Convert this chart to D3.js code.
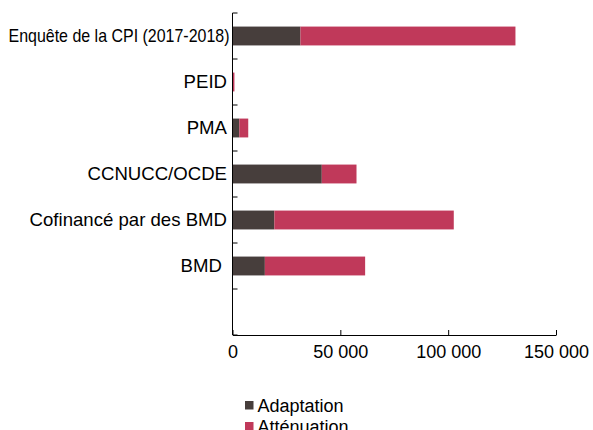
<!DOCTYPE html>
<html>
<head>
<meta charset="utf-8">
<script src="https://cdn.jsdelivr.net/npm/d3@7"></script>
<style>
  body { margin: 0; background: #fff; }
  svg { display: block; font-family: "Liberation Sans", Arial, sans-serif; }
</style>
</head>
<body>
<div id="chart"></div>
<script>
// Données
const categories = ['Enquête de la CPI (2017-2018)', 'PEID', 'PMA', 'CCNUCC/OCDE', 'Cofinancé par des BMD', 'BMD ', ''];
const adaptation = [31500, 200, 3150, 41400, 19400, 15000, 0];
const attenuation = [99700, 700, 4150, 16100, 83200, 46500, 0];
const xTicks = [0, 50000, 100000, 150000];
const seriesNames = ['Adaptation', 'Atténuation'];
const colors = ['#473e3c', '#c0395a'];

const width = 593;
const height = 430;
const x0 = 232.5;
const yTop = 13;
const yBottom = 335;

const svg = d3.select('#chart').append('svg')
    .attr('width', width)
    .attr('height', height);

const xScale = d3.scaleLinear()
    .domain([0, 150000])
    .range([x0, 556]);

const yScale = d3.scaleBand()
    .domain(d3.range(categories.length))
    .range([yTop, yBottom])
    .paddingInner(0.59)
    .paddingOuter(0.295);

const fmt = d => d3.format(',')(d).replace(/,/g, ' ');

// Barres empilées
const rows = categories.map((c, i) => ({ i: i, adaptation: adaptation[i], attenuation: attenuation[i] }));
const stack = d3.stack().keys(['adaptation', 'attenuation'])(rows);

svg.selectAll('.serie')
    .data(stack)
    .enter()
    .append('g')
    .attr('class', 'serie')
    .attr('fill', (d, k) => colors[k])
    .selectAll('rect')
    .data(d => d.filter(p => p[1] > p[0]))
    .enter()
    .append('rect')
    .attr('x', d => xScale(d[0]))
    .attr('y', d => yScale(d.data.i))
    .attr('width', d => xScale(d[1]) - xScale(d[0]))
    .attr('height', yScale.bandwidth());

// Axe X
const xAxis = svg.append('g')
    .attr('transform', `translate(0, ${yBottom})`)
    .call(d3.axisBottom(xScale).tickValues(xTicks).tickFormat(fmt).tickSize(-5).tickSizeOuter(0).tickPadding(10));
xAxis.selectAll('text')
    .attr('fill', '#000')
    .style('font-size', '18px');

// Axe Y : libellés
const yAxis = svg.append('g')
    .attr('transform', `translate(${x0}, 0)`)
    .call(d3.axisLeft(yScale).tickFormat(i => categories[i]).tickSize(0).tickPadding(5.5));
yAxis.select('.domain').remove();
yAxis.selectAll('text')
    .attr('fill', '#000')
    .style('font-size', '18.6px')
    .style('white-space', 'pre');
yAxis.selectAll('text')
    .filter(i => i === 0)
    .attr('dx', 2.5)
    .attr('textLength', 221)
    .attr('lengthAdjust', 'spacingAndGlyphs');

// Axe Y : ligne et graduations entre les catégories
const step = yScale.step();
svg.append('line')
    .attr('x1', x0).attr('x2', x0)
    .attr('y1', yTop).attr('y2', yBottom)
    .attr('stroke', '#000');
svg.selectAll('.ytick')
    .data(d3.range(categories.length + 1))
    .enter()
    .append('line')
    .attr('class', 'ytick')
    .attr('x1', x0).attr('x2', x0 + 5)
    .attr('y1', d => yTop + d * step)
    .attr('y2', d => yTop + d * step)
    .attr('stroke', '#000');

xAxis.selectAll('.domain, .tick line').attr('stroke', '#000');

// Légende
const legend = svg.append('g')
    .attr('transform', 'translate(245, 401)');
const items = legend.selectAll('g')
    .data(seriesNames)
    .enter()
    .append('g')
    .attr('transform', (d, i) => `translate(0, ${i * 21})`);
items.append('rect')
    .attr('width', 8.5)
    .attr('height', 8.5)
    .attr('fill', (d, i) => colors[i]);
items.append('text')
    .attr('x', 12.5)
    .attr('y', 11)
    .attr('fill', '#000')
    .style('font-size', '18px')
    .text(d => d);
</script>
</body>
</html>
